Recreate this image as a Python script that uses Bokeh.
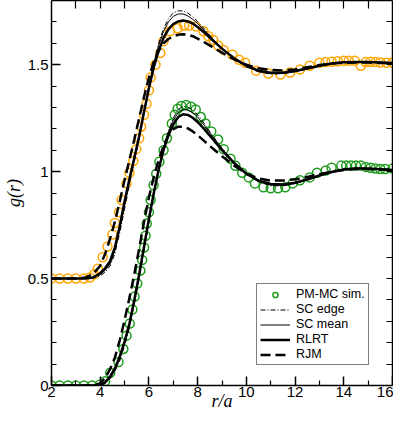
from bokeh.plotting import figure
from bokeh.models import (LinearAxis, FixedTicker, CustomJSTickFormatter, Legend,
                          LegendItem, Range1d)
from bokeh.embed import file_html
from bokeh.resources import INLINE

# ---------------- data ----------------
# simulation points (PM-MC sim.), lower state (no shift)
green_r = [2.0, 2.33, 2.67, 3.0, 3.33, 3.67, 3.97, 4.2, 4.41, 4.75, 4.95, 5.08, 5.21, 5.32,
           5.41, 5.52, 5.65, 5.72, 5.8, 5.86, 5.91, 6.0, 6.07, 6.19, 6.3, 6.43, 6.6, 6.74,
           6.94, 7.06, 7.18, 7.33, 7.53, 7.73, 7.92, 8.13, 8.32, 8.56, 8.84, 9.07, 9.35,
           9.55, 9.83, 10.1, 10.35, 10.7, 11.0, 11.3, 11.6, 11.9, 12.2, 12.6, 12.9, 13.26,
           13.5, 13.9, 14.1, 14.3, 14.5, 14.7, 14.9, 15.1, 15.3, 15.5, 15.7, 16.0]
green_g = [0, 0, 0, 0, 0, 0, 0.003, 0.02, 0.06, 0.11, 0.171, 0.233, 0.29, 0.355,
           0.416, 0.477, 0.537, 0.587, 0.645, 0.70, 0.757, 0.81, 0.867, 0.936, 0.99, 1.046, 1.10, 1.156,
           1.225, 1.266, 1.294, 1.307, 1.312, 1.303, 1.29, 1.255, 1.225, 1.188, 1.15, 1.105, 1.06,
           1.027, 0.995, 0.973, 0.945, 0.927, 0.922, 0.922, 0.927, 0.945, 0.96, 0.973, 0.995, 1.005,
           1.018, 1.028, 1.028, 1.028, 1.028, 1.028, 1.022, 1.018, 1.014, 1.012, 1.012, 1.014]

# simulation points, upper state (plotted shifted by +0.5)
orange_r = [2.0, 2.33, 2.67, 3.0, 3.33, 3.58, 3.75, 3.9, 4.1, 4.3, 4.5, 4.6, 4.77, 4.88,
            5.08, 5.2, 5.36, 5.48, 5.6, 5.68, 5.8, 5.9, 6.0, 6.07, 6.27, 6.47, 6.6, 6.86,
            7.18, 7.45, 7.65, 7.92, 8.24, 8.44, 8.64, 8.84, 9.07, 9.43, 9.7, 9.95, 10.4,
            10.9, 11.4, 11.8, 12.2, 12.6, 13.0, 13.25, 13.5, 13.75, 14.0, 14.2, 14.45, 14.7,
            14.9, 15.1, 15.3, 15.5, 15.75, 16.0]
orange_g = [0.5, 0.5, 0.5, 0.5, 0.5, 0.505, 0.52, 0.546, 0.60, 0.65, 0.706, 0.76, 0.81, 0.867,
            0.945, 0.995, 1.05, 1.105, 1.156, 1.21, 1.266, 1.317, 1.38, 1.44, 1.50, 1.555, 1.61, 1.656,
            1.67, 1.683, 1.683, 1.679, 1.656, 1.633, 1.615, 1.59, 1.569, 1.546, 1.523, 1.509, 1.472,
            1.459, 1.454, 1.463, 1.477, 1.495, 1.509, 1.512, 1.514, 1.516, 1.518, 1.518, 1.518, 1.495,
            1.512, 1.514, 1.512, 1.51, 1.509, 1.51]

# theory curves on a common r grid
r_grid = [2.0, 3.0, 3.4, 3.7, 4.0, 4.2, 4.4, 4.6, 4.8, 5.0, 5.2, 5.4, 5.6, 5.8, 6.0, 6.2,
          6.4, 6.6, 6.8, 7.0, 7.2, 7.4, 7.6, 7.8, 8.0, 8.3, 8.6, 9.0, 9.5, 10.0, 10.5,
          11.0, 11.5, 12.0, 12.5, 13.0, 13.5, 14.0, 14.5, 15.0, 15.5, 16.0]

green_sc_edge = [0, 0, 0, 0, 0.001, 0.01, 0.03, 0.065, 0.115, 0.185, 0.27, 0.38, 0.50, 0.63,
                 0.765, 0.89, 1.008, 1.11, 1.19, 1.25, 1.29, 1.305, 1.302, 1.288, 1.265, 1.22,
                 1.17, 1.11, 1.044, 0.99, 0.952, 0.934, 0.933, 0.944, 0.962, 0.982, 0.999,
                 1.011, 1.017, 1.016, 1.012, 1.009]
green_sc_mean = [0, 0, 0, 0, 0.002, 0.012, 0.035, 0.072, 0.125, 0.195, 0.28, 0.39, 0.51, 0.64,
                 0.775, 0.90, 1.015, 1.11, 1.185, 1.24, 1.275, 1.29, 1.288, 1.275, 1.255, 1.212,
                 1.166, 1.108, 1.043, 0.99, 0.954, 0.937, 0.935, 0.945, 0.962, 0.982, 0.999,
                 1.011, 1.016, 1.015, 1.012, 1.009]
green_rlrt = [0, 0, 0, 0, 0.003, 0.015, 0.04, 0.08, 0.135, 0.205, 0.29, 0.40, 0.52, 0.65,
              0.78, 0.90, 1.01, 1.10, 1.17, 1.22, 1.255, 1.268, 1.265, 1.252, 1.232, 1.195,
              1.155, 1.10, 1.04, 0.99, 0.958, 0.942, 0.940, 0.948, 0.963, 0.982, 0.998,
              1.010, 1.015, 1.014, 1.011, 1.008]
green_rjm = [0, 0, 0, 0, 0.01, 0.035, 0.075, 0.13, 0.21, 0.305, 0.41, 0.52, 0.64, 0.765,
             0.88, 0.975, 1.055, 1.12, 1.17, 1.198, 1.21, 1.21, 1.202, 1.188, 1.17, 1.14,
             1.11, 1.072, 1.028, 0.99, 0.968, 0.958, 0.958, 0.964, 0.975, 0.988, 1.0,
             1.008, 1.012, 1.012, 1.01, 1.008]

orange_sc_edge = [0.5, 0.5, 0.5, 0.502, 0.512, 0.53, 0.558, 0.615, 0.712, 0.825, 0.94, 1.045,
                  1.155, 1.275, 1.40, 1.51, 1.60, 1.668, 1.715, 1.742, 1.752, 1.751, 1.741,
                  1.724, 1.702, 1.664, 1.625, 1.576, 1.526, 1.49, 1.466, 1.456, 1.458, 1.467,
                  1.48, 1.494, 1.504, 1.511, 1.514, 1.513, 1.51, 1.508]
orange_sc_mean = [0.5, 0.5, 0.5, 0.503, 0.518, 0.538, 0.568, 0.63, 0.73, 0.845, 0.955, 1.055,
                  1.16, 1.28, 1.40, 1.505, 1.59, 1.655, 1.70, 1.726, 1.737, 1.737, 1.728,
                  1.712, 1.692, 1.658, 1.622, 1.576, 1.528, 1.492, 1.468, 1.458, 1.459, 1.468,
                  1.481, 1.494, 1.504, 1.511, 1.513, 1.512, 1.51, 1.508]
orange_rlrt = [0.5, 0.5, 0.5, 0.505, 0.525, 0.548, 0.58, 0.645, 0.745, 0.86, 0.965, 1.065,
               1.165, 1.28, 1.39, 1.488, 1.565, 1.625, 1.665, 1.69, 1.702, 1.706, 1.702,
               1.692, 1.676, 1.648, 1.616, 1.575, 1.53, 1.495, 1.472, 1.462, 1.462, 1.47,
               1.482, 1.495, 1.505, 1.511, 1.513, 1.512, 1.51, 1.508]
orange_rjm = [0.5, 0.5, 0.505, 0.52, 0.56, 0.615, 0.685, 0.765, 0.86, 0.96, 1.055, 1.15,
              1.25, 1.35, 1.44, 1.515, 1.565, 1.60, 1.62, 1.633, 1.64, 1.642, 1.64, 1.633,
              1.622, 1.603, 1.583, 1.556, 1.525, 1.50, 1.483, 1.475, 1.473, 1.478, 1.488,
              1.498, 1.505, 1.509, 1.51, 1.51, 1.508, 1.507]

x_major = [2, 4, 6, 8, 10, 12, 14, 16]
x_minor = [3, 5, 7, 9, 11, 13, 15]
x_top = [3, 4, 5, 6, 7, 8, 9, 10, 11, 12, 13, 14, 15]
y_major = [0, 0.5, 1.0, 1.5]
y_minor = [0.1, 0.2, 0.3, 0.4, 0.6, 0.7, 0.8, 0.9, 1.1, 1.2, 1.3, 1.4, 1.6, 1.7]
y_right = [0.1, 0.2, 0.3, 0.4, 0.5, 0.6, 0.7, 0.8, 0.9, 1.0, 1.1, 1.2, 1.3, 1.4, 1.5, 1.6, 1.7]

legend_labels = ["PM-MC sim.", "SC edge", "SC mean", "RLRT", "RJM"]

# ---------------- figure ----------------
p = figure(width=393, height=413, x_range=Range1d(2, 16), y_range=Range1d(0, 1.8),
           output_backend="svg", toolbar_location=None,
           min_border_left=20, min_border_right=1, min_border_top=0, min_border_bottom=10)
p.xgrid.visible = False
p.ygrid.visible = False
p.outline_line_color = None
p.background_fill_color = "white"
p.border_fill_color = "white"

TICK_FONT = "Liberation Sans"
LBL_FONT = "Liberation Serif"

def style_axis(ax, major, minor, tin=9, tmin=5):
    ax.ticker = FixedTicker(ticks=major, minor_ticks=minor)
    ax.major_tick_in = tin
    ax.major_tick_out = 0
    ax.minor_tick_in = tmin
    ax.minor_tick_out = 0
    ax.axis_line_width = 1.5
    ax.major_tick_line_width = 1.5
    ax.minor_tick_line_width = 1.2
    ax.axis_line_color = "black"
    ax.major_tick_line_color = "black"
    ax.minor_tick_line_color = "black"

xa = p.xaxis[0]
style_axis(xa, x_major, x_minor)
xa.major_label_text_font = TICK_FONT
xa.major_label_text_font_size = "15px"
xa.major_label_text_color = "black"
xa.major_label_standoff = 1
xa.axis_label = "r/a"
xa.axis_label_text_font = LBL_FONT
xa.axis_label_text_font_style = "italic"
xa.axis_label_text_font_size = "18px"
xa.axis_label_standoff = -9
xa.axis_label_text_color = "black"

ya = p.yaxis[0]
style_axis(ya, y_major, y_minor)
ya.formatter = CustomJSTickFormatter(code="return String(Math.round(tick*10)/10);")
ya.major_label_text_font = TICK_FONT
ya.major_label_text_font_size = "15px"
ya.major_label_text_color = "black"
ya.major_label_standoff = 3
ya.axis_label = "g(r)"
ya.axis_label_text_font = LBL_FONT
ya.axis_label_text_font_style = "italic"
ya.axis_label_text_font_size = "18px"
ya.axis_label_standoff = 1
ya.axis_label_text_color = "black"

# frame axes without labels: only (minor) tick marks, so no text is produced
top = LinearAxis()
style_axis(top, [], x_top, tmin=8)
top.major_label_standoff = 0
top.axis_label_standoff = 0
p.add_layout(top, "above")

right = LinearAxis()
style_axis(right, [], y_right, tmin=6)
right.major_label_standoff = 0
right.axis_label_standoff = 0
p.add_layout(right, "right")

# ---------------- glyphs ----------------
ORANGE = "#FFA500"
GREEN = "#1E9B1E"

p.scatter(orange_r, orange_g, marker="circle", size=9, fill_color=None,
          line_color=ORANGE, line_width=1.5)
sim = p.scatter(green_r, green_g, marker="circle", size=9, fill_color=None,
                line_color=GREEN, line_width=1.5)

styles = {
    "edge": dict(line_width=1.0, line_dash="5 2 1 2"),
    "mean": dict(line_width=1.0),
    "rlrt": dict(line_width=2.5),
    "rjm": dict(line_width=2.5, line_dash="10 5"),
}

p.line(r_grid, orange_sc_edge, line_color="black", **styles["edge"])
p.line(r_grid, orange_sc_mean, line_color="black", **styles["mean"])
p.line(r_grid, orange_rlrt, line_color="black", **styles["rlrt"])
p.line(r_grid, orange_rjm, line_color="black", **styles["rjm"])

l_edge = p.line(r_grid, green_sc_edge, line_color="black", **styles["edge"])
l_mean = p.line(r_grid, green_sc_mean, line_color="black", **styles["mean"])
l_rlrt = p.line(r_grid, green_rlrt, line_color="black", **styles["rlrt"])
l_rjm = p.line(r_grid, green_rjm, line_color="black", **styles["rjm"])

legend = Legend(items=[
    LegendItem(label=legend_labels[0], renderers=[sim]),
    LegendItem(label=legend_labels[1], renderers=[l_edge]),
    LegendItem(label=legend_labels[2], renderers=[l_mean]),
    LegendItem(label=legend_labels[3], renderers=[l_rlrt]),
    LegendItem(label=legend_labels[4], renderers=[l_rjm]),
], location=(205, 20))
legend.border_line_color = "black"
legend.border_line_width = 1
legend.background_fill_color = "white"
legend.background_fill_alpha = 1
legend.label_text_font = TICK_FONT
legend.label_text_font_size = "12.5px"
legend.label_text_line_height = 1.0
legend.label_text_color = "black"
legend.glyph_width = 30
legend.glyph_height = 13
legend.label_height = 13
legend.spacing = 1
legend.padding = 3
legend.margin = 0
legend.label_standoff = 6
p.add_layout(legend)

open("out.html", "w").write(file_html(p, INLINE))
